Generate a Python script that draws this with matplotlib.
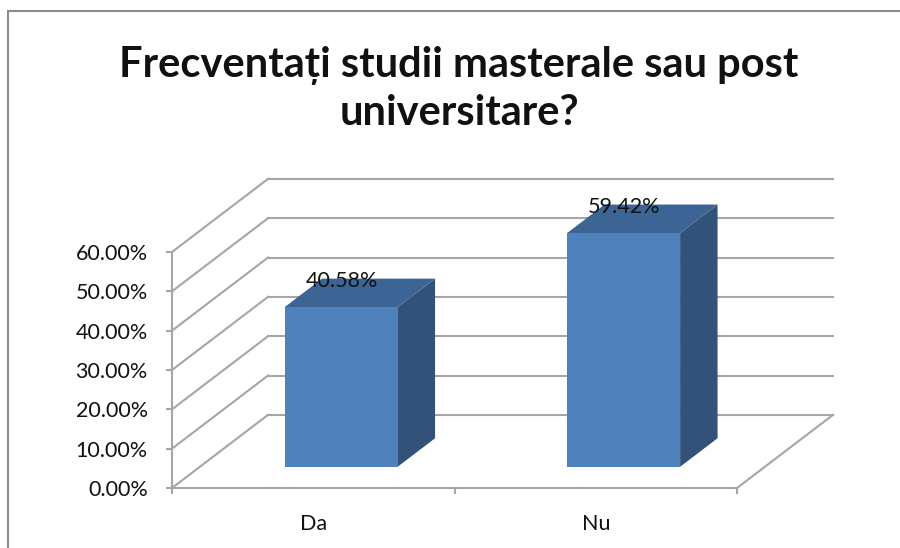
import matplotlib
matplotlib.use('Agg')
import matplotlib.pyplot as plt
from matplotlib.patches import Polygon, Rectangle
from matplotlib.lines import Line2D
from matplotlib.ticker import FuncFormatter

plt.rcParams['font.family'] = ['Lato', 'DejaVu Sans']

# Données
categories = ["Da", "Nu"]
values = [40.58, 59.42]
yticks = [0, 10, 20, 30, 40, 50, 60]
title = "Frecventați studii masterale sau post\nuniversitare?"

# Effet 3D (en unités de données)
dx, dy = 0.34, 18.6      # profondeur du mur arrière
f0, f1 = 0.29, 0.68      # position avant / arrière des barres dans la profondeur
bw = 0.40                # largeur des barres
grid_col = '#a6a6a6'
txt_col = '#111111'

W, H = 900, 548
fig = plt.figure(figsize=(W / 100, H / 100), dpi=100)

# Cadre extérieur
fig.add_artist(Line2D([8 / W, 8 / W], [0, 1 - 11 / H], color='#8c8c8c', lw=1.5))
fig.add_artist(Line2D([8 / W, 1], [1 - 11 / H, 1 - 11 / H], color='#8c8c8c', lw=1.5))

fig.text(459 / W, 1 - 89 / H, title, ha='center', va='center', fontsize=30,
         fontweight='bold', linespacing=1.3, color=txt_col)

# Axe = plan avant
ax = fig.add_axes([172 / W, (H - 488) / H, (737 - 172) / W, (488 - 252) / H])
ax.set_xlim(0, 2)
ax.set_ylim(0, 60)
ax.patch.set_alpha(0)
for s in ['top', 'right']:
    ax.spines[s].set_visible(False)
for s in ['left', 'bottom']:
    ax.spines[s].set_color(grid_col)
    ax.spines[s].set_linewidth(1.5)

ax.set_yticks(yticks)
ax.yaxis.set_major_formatter(FuncFormatter(lambda v, p: f"{v:.2f}%"))
ax.tick_params(axis='y', length=4.5, width=1.5, color=grid_col, labelsize=15.5,
               labelcolor=txt_col, pad=13)
ax.set_xticks([0, 1, 2])
ax.set_xticklabels([])
ax.set_xticks([i + 0.5 for i in range(len(categories))], minor=True)
ax.set_xticklabels(categories, minor=True)
ax.tick_params(axis='x', which='major', length=4.5, width=1.5, color=grid_col)
ax.tick_params(axis='x', which='minor', length=0, labelsize=15.5,
               labelcolor=txt_col, pad=19)

# Mur arrière + lignes obliques
for v in yticks:
    ax.plot([0, dx], [v, v + dy], color=grid_col, lw=1.5, clip_on=False, zorder=1)
    ax.plot([dx, 2 + dx], [v + dy, v + dy], color=grid_col, lw=1.5, clip_on=False, zorder=1)
ax.plot([2, 2 + dx], [0, dy], color=grid_col, lw=1.5, clip_on=False, zorder=1)

# Barres 3D
front, side, top = '#4f81bd', '#32527a', '#3c6494'
for i, v in enumerate(values):
    x0 = i + 0.5 - bw / 2 + f0 * dx
    x1 = x0 + bw
    y0 = f0 * dy
    ddx, ddy = (f1 - f0) * dx, (f1 - f0) * dy
    ax.add_patch(Polygon([(x1, y0), (x1 + ddx, y0 + ddy), (x1 + ddx, y0 + ddy + v), (x1, y0 + v)],
                         closed=True, facecolor=side, edgecolor='none', clip_on=False, zorder=3))
    ax.add_patch(Polygon([(x0, y0 + v), (x1, y0 + v), (x1 + ddx, y0 + ddy + v), (x0 + ddx, y0 + ddy + v)],
                         closed=True, facecolor=top, edgecolor='none', clip_on=False, zorder=3))
    ax.add_patch(Rectangle((x0, y0), bw, v, facecolor=front, edgecolor='none',
                           clip_on=False, zorder=4))
    ax.text(i + 0.6, v + 12.1, f"{v:.2f}%", ha='center', va='center', fontsize=15.5,
            color=txt_col, zorder=5)

fig.savefig('out.png', dpi=100)
